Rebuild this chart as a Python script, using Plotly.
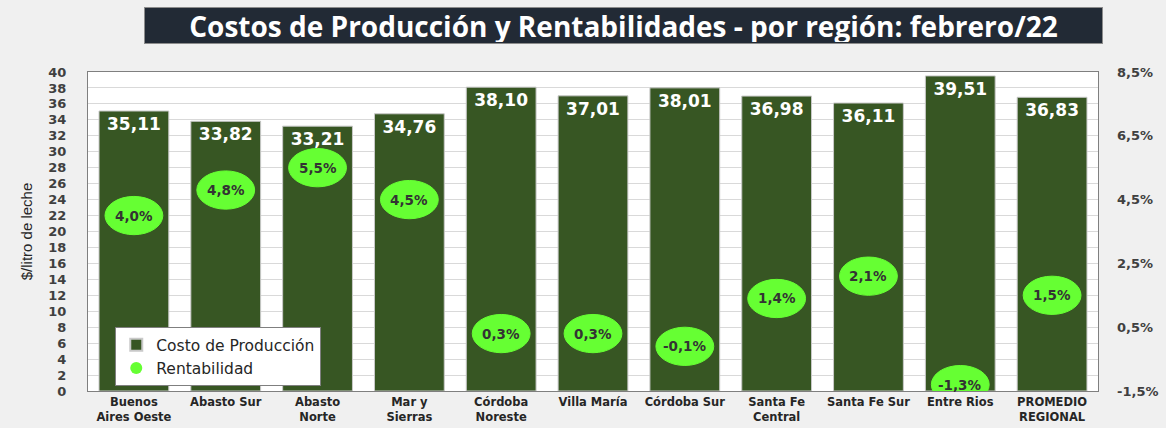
import plotly.graph_objects as go

categories = ["Buenos<br>Aires Oeste", "Abasto Sur", "Abasto<br>Norte", "Mar y<br>Sierras",
              "Córdoba<br>Noreste", "Villa María", "Córdoba Sur", "Santa Fe<br>Central",
              "Santa Fe Sur", "Entre Rios", "PROMEDIO<br>REGIONAL"]
costos = [35.11, 33.82, 33.21, 34.76, 38.10, 37.01, 38.01, 36.98, 36.11, 39.51, 36.83]
rentabilidad = [4.0, 4.8, 5.5, 4.5, 0.3, 0.3, -0.1, 1.4, 2.1, -1.3, 1.5]
left_ticks = list(range(0, 41, 2))
right_ticks = [-1.5, 0.5, 2.5, 4.5, 6.5, 8.5]
right_labels = [f"{v:.1f}%".replace(".", ",") for v in right_ticks]

TXT = "#404040"
FONT = "DejaVu Sans"

fig = go.Figure()
fig.add_trace(go.Bar(
    x=list(range(len(categories))), y=costos, name="Costo de Producción",
    marker=dict(color="#375623", line=dict(color="#c9c9c9", width=1)),
    width=0.76,
    texttemplate="%{y:.2f}", textposition="inside", insidetextanchor="end",
    textfont=dict(family=FONT, size=17, color="white", weight="bold"),
    hoverinfo="skip",
))
fig.add_trace(go.Scatter(
    x=[None], y=[None], yaxis="y2", mode="markers", name="Rentabilidad",
    marker=dict(color="#66ff33", size=8),
))

shapes = []
annotations = []
for i, r in enumerate(rentabilidad):
    shapes.append(dict(type="circle", xref="x", yref="y2",
                       x0=i - 0.315, x1=i + 0.315, y0=r - 0.6, y1=r + 0.6,
                       fillcolor="#66ff33", line=dict(color="#66ff33", width=1), layer="above"))
    annotations.append(dict(x=i, y=r, xref="x", yref="y2", showarrow=False,
                            text=f"{r:.1f}%".replace(".", ","),
                            font=dict(family=FONT, size=13.5, color="#333333", weight="bold")))

annotations.append(dict(
    x=0.53, y=1.147, xref="paper", yref="paper", showarrow=False,
    text="Costos de Producción y Rentabilidades - por región: febrero/22",
    font=dict(family="Open Sans", size=28, color="white", weight="bold"),
    bgcolor="#222a35", bordercolor="#8c8c8c", borderwidth=1,
    width=955, height=33, xanchor="center", yanchor="middle",
))

fig.update_layout(
    width=1166, height=428,
    margin=dict(l=88, r=68, t=72, b=37, autoexpand=False),
    paper_bgcolor="#f0f0f0", plot_bgcolor="white",
    separators=",.",
    showlegend=True,
    legend=dict(x=0.027, y=0.2, xanchor="left", yanchor="top",
                bgcolor="white", bordercolor="#7f7f7f", borderwidth=1,
                font=dict(family=FONT, size=15.5, color="#262626"),
                itemsizing="constant", itemwidth=30, tracegroupgap=0),
    xaxis=dict(tickmode="array", tickvals=list(range(len(categories))), ticktext=categories,
               range=[-0.5, len(categories) - 0.5], automargin=False,
               showline=True, linecolor="#7f7f7f", linewidth=1, mirror=True,
               ticks="", showgrid=False,
               tickfont=dict(family=FONT, size=11.5, color="#262626", weight="bold")),
    yaxis=dict(range=[0, 40], tickvals=left_ticks, showgrid=True, gridcolor="#d9d9d9",
               showline=True, linecolor="#7f7f7f", linewidth=1, mirror=True,
               ticks="", zeroline=False, automargin=False, ticklabelstandoff=18,
               tickfont=dict(family=FONT, size=13, color=TXT, weight="bold"),
               title=dict(text="$/litro de leche", font=dict(family="Liberation Sans Narrow, Liberation Sans", size=15, color="#262626"), standoff=12)),
    yaxis2=dict(range=[-1.5, 8.5], tickmode="array", tickvals=right_ticks, ticktext=right_labels,
                overlaying="y", side="right", automargin=False, ticklabelstandoff=18,
                showgrid=False, zeroline=False, showline=False, ticks="",
                tickfont=dict(family=FONT, size=13, color=TXT, weight="bold")),
    shapes=shapes,
    annotations=annotations,
)

fig.write_html("out.html", config={"displayModeBar": False},
               post_script="document.body.style.margin='0';document.body.style.background='#f0f0f0';")
